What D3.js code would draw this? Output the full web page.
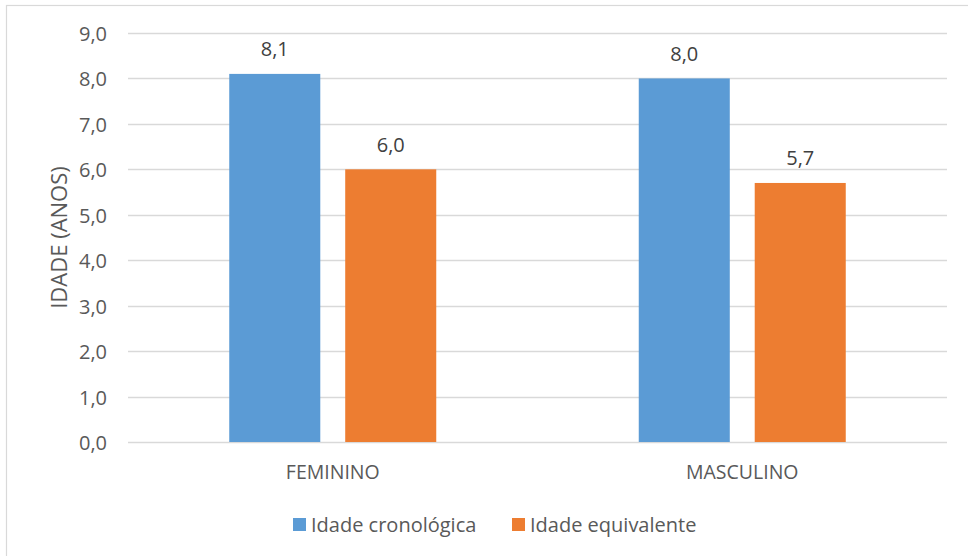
<!DOCTYPE html>
<html>
<head>
<meta charset="utf-8">
<script src="https://cdn.jsdelivr.net/npm/d3@7"></script>
<style>
  html, body { margin: 0; padding: 0; background: #fff; }
  svg { display: block; font-family: "Open Sans", Lato, sans-serif; }
</style>
</head>
<body>
<svg id="chart" width="968" height="556"></svg>
<script>
// Age data by sex
const categories = ["FEMININO", "MASCULINO"];
const seriesNames = ["Idade cronológica", "Idade equivalente"];
const idadeCronologica = [8.1, 8.0];
const idadeEquivalente = [6.0, 5.7];
const yTicks = [0, 1, 2, 3, 4, 5, 6, 7, 8, 9];
const colors = ["#5b9bd5", "#ed7d31"];

const seriesValues = [idadeCronologica, idadeEquivalente];
const fmt = v => d3.format(".1f")(v).replace(".", ",");

const svg = d3.select("#chart");
const W = 968, H = 556;
const plot = { left: 128, right: 947, top: 33, bottom: 442 };
const textColor = "#595959";
const fontSize = 20;

// Chart frame (runs past the right and bottom edges)
svg.append("rect")
  .attr("x", 6.5).attr("y", 5.5)
  .attr("width", W + 10).attr("height", H + 10)
  .attr("fill", "#fff").attr("stroke", "#d9d9d9").attr("stroke-width", 1.2);

const x0 = d3.scaleBand().domain(categories).range([plot.left, plot.right]);
const half = 103.5;
const x1 = d3.scaleBand().domain(seriesNames)
  .range([x0.bandwidth() / 2 - half, x0.bandwidth() / 2 + half])
  .paddingInner(0.215).paddingOuter(0);
const y = d3.scaleLinear().domain([0, 9]).range([plot.bottom, plot.top]);

// Gridlines
svg.append("g")
  .selectAll("line").data(yTicks).join("line")
  .attr("x1", plot.left).attr("x2", plot.right)
  .attr("y1", d => Math.round(y(d)) + 0.5).attr("y2", d => Math.round(y(d)) + 0.5)
  .attr("stroke", "#d9d9d9").attr("stroke-width", 1.3);

// Y axis tick labels
const yAxis = d3.axisLeft(y).tickValues(yTicks).tickFormat(fmt).tickSize(0).tickPadding(0);
const yg = svg.append("g").attr("transform", `translate(${plot.left - 21},0)`).call(yAxis);
yg.select(".domain").remove();
yg.selectAll("text")
  .attr("fill", textColor).attr("font-size", fontSize).attr("font-family", "'Open Sans', sans-serif")
  .attr("dy", null).attr("dominant-baseline", "central");

// Y axis title
svg.append("text")
  .attr("transform", `translate(58,${(plot.top + plot.bottom) / 2}) rotate(-90)`)
  .attr("text-anchor", "middle").attr("dominant-baseline", "central")
  .attr("fill", textColor).attr("font-size", 22)
  .text("IDADE (ANOS)");

// Bars and value labels
const groups = svg.append("g").selectAll("g").data(categories).join("g")
  .attr("transform", d => `translate(${x0(d)},0)`);

groups.each(function (cat, ci) {
  const g = d3.select(this);
  seriesNames.forEach((s, si) => {
    const v = seriesValues[si][ci];
    g.append("rect")
      .attr("x", x1(s)).attr("width", x1.bandwidth())
      .attr("y", y(v)).attr("height", y(0) - y(v))
      .attr("fill", colors[si]);
    g.append("text")
      .attr("x", x1(s) + x1.bandwidth() / 2)
      .attr("y", y(v) - 25)
      .attr("text-anchor", "middle").attr("dominant-baseline", "central")
      .attr("fill", "#404040").attr("font-size", fontSize)
      .text(fmt(v));
  });
});

// Category axis labels
const xAxis = d3.axisBottom(x0).tickSize(0).tickPadding(0);
const xg = svg.append("g").attr("transform", `translate(0,${plot.bottom + 29})`).call(xAxis);
xg.select(".domain").remove();
xg.selectAll("text")
  .attr("fill", textColor).attr("font-size", 19.5).attr("font-family", "'Open Sans', sans-serif")
  .attr("dy", null).attr("y", 0).attr("dominant-baseline", "central");

// Legend
const legendX = [293, 512];
const legend = svg.append("g").selectAll("g").data(seriesNames).join("g")
  .attr("transform", (d, i) => `translate(${legendX[i]},518)`);
legend.append("rect").attr("width", 13).attr("height", 13).attr("fill", (d, i) => colors[i]);
legend.append("text")
  .attr("x", 18).attr("y", 6.5).attr("dominant-baseline", "central")
  .attr("fill", textColor).attr("font-size", fontSize)
  .text(d => d);
</script>
</body>
</html>
